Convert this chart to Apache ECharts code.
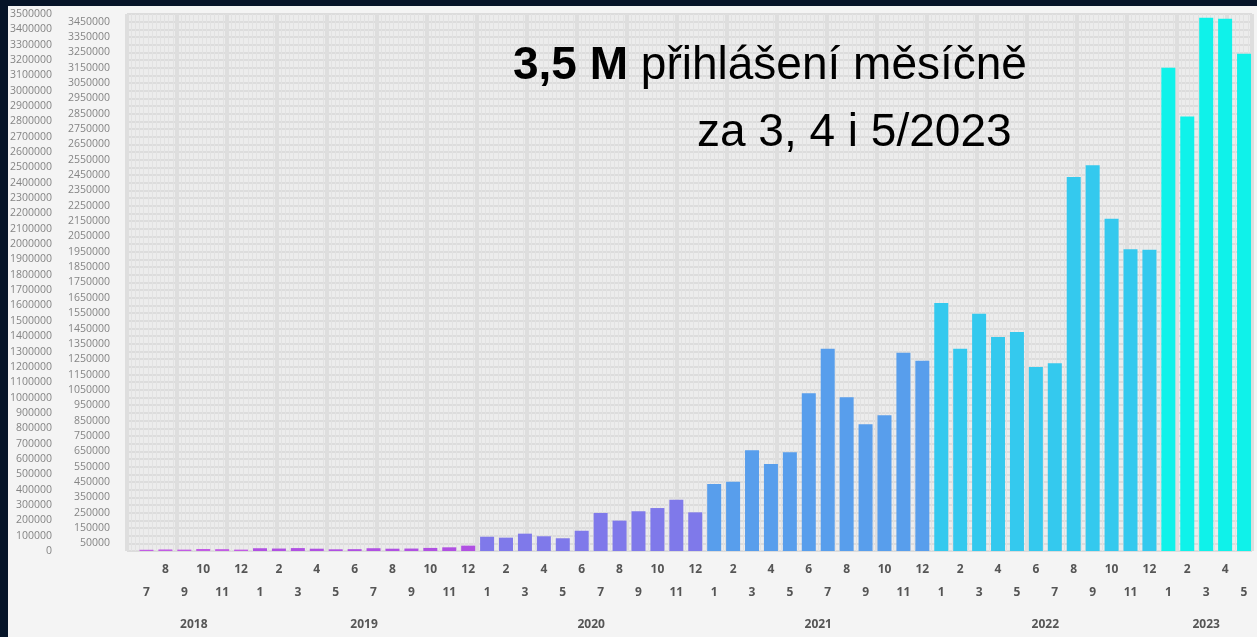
<!DOCTYPE html>
<html>
<head>
<meta charset="utf-8">
<title>Přihlášení měsíčně</title>
<script src="https://cdn.jsdelivr.net/npm/echarts@6/dist/echarts.min.js"></script>
<style>
  html, body { margin: 0; padding: 0; background: #061428; }
  #main { width: 1257px; height: 637px; }
</style>
</head>
<body>
<div id="main"></div>
<script>
// kategorie (rok-měsíc) od 7/2018 do 5/2023
var categories = [
  '2018-7','2018-8','2018-9','2018-10','2018-11','2018-12',
  '2019-1','2019-2','2019-3','2019-4','2019-5','2019-6','2019-7','2019-8','2019-9','2019-10','2019-11','2019-12',
  '2020-1','2020-2','2020-3','2020-4','2020-5','2020-6','2020-7','2020-8','2020-9','2020-10','2020-11','2020-12',
  '2021-1','2021-2','2021-3','2021-4','2021-5','2021-6','2021-7','2021-8','2021-9','2021-10','2021-11','2021-12',
  '2022-1','2022-2','2022-3','2022-4','2022-5','2022-6','2022-7','2022-8','2022-9','2022-10','2022-11','2022-12',
  '2023-1','2023-2','2023-3','2023-4','2023-5'
]
// počet přihlášení za měsíc
var logins = [
  8000, 10000, 9000, 13000, 12000, 9000,
  18000, 16000, 19000, 15000, 11000, 12000, 18000, 15000, 16000, 20000, 24000, 35000,
  93000, 87000, 113000, 96000, 83000, 132000, 248000, 198000, 259000, 280000, 334000, 252000,
  437000, 452000, 656000, 567000, 643000, 1028000, 1318000, 1002000, 826000, 884000, 1292000, 1240000,
  1617000, 1319000, 1546000, 1394000, 1428000, 1200000, 1224000, 2437000, 2515000, 2165000, 1967000, 1963000,
  3150000, 2832000, 3476000, 3469000, 3241000
]
var years = ['2018', '2019', '2020', '2021', '2022', '2023']
var yearColors = ['#c25ce4', '#b050e2', '#7f79ea', '#589eec', '#34c9ee', '#0ff2ea']

var yMax = 3500000
var yStep = 50000

// středy let pro popisky roku
var yearCenters = years.map(function (y) {
  var idx = []
  categories.forEach(function (c, i) { if (c.split('-')[0] === y) idx.push(i) })
  return (idx[0] + idx[idx.length - 1]) / 2
})

var chart = echarts.init(document.getElementById('main'))

chart.setOption({
  backgroundColor: '#061428',
  animation: false,
  graphic: [
    {
      type: 'rect', z: -10, silent: true,
      shape: { x: 8, y: 6, width: 1257 - 8, height: 637 - 6 },
      style: { fill: '#f4f4f4' }
    },
    {
      type: 'text', left: 513, top: 43, z: 100,
      style: {
        text: '{b|3,5 M} přihlášení měsíčně',
        rich: {
          b: { fontFamily: 'Liberation Sans', fontSize: 46, fontWeight: 'bold', fill: '#000' }
        },
        fontFamily: 'Liberation Sans', fontSize: 46, fill: '#000'
      }
    },
    {
      type: 'text', left: 697, top: 110, z: 100,
      style: { text: 'za 3, 4 i 5/2023', fontFamily: 'Liberation Sans', fontSize: 46, fill: '#000' }
    }
  ],
  grid: [
    { left: 137, right: 3.5, top: 14, bottom: 86 },
    { left: 127, right: 5, top: 14, bottom: 86, show: true, backgroundColor: '#ececec', borderWidth: 0, z: 0 }
  ],
  xAxis: [
    {
      type: 'category',
      gridIndex: 0,
      data: categories,
      axisLine: { show: false },
      axisTick: { show: false },
      axisLabel: {
        interval: 0,
        margin: 7,
        fontFamily: 'Open Sans',
        fontSize: 12,
        fontWeight: 'bold',
        color: '#555',
        lineHeight: 23,
        formatter: function (v) {
          var i = categories.indexOf(v)
          var m = v.split('-')[1]
          return i % 2 === 0 ? '\n' + m : m
        }
      }
    },
    {
      type: 'value',
      gridIndex: 0,
      min: -0.5,
      max: categories.length - 0.5,
      position: 'bottom',
      axisLine: { show: false },
      axisTick: { show: false },
      splitLine: { show: false },
      axisLabel: {
        customValues: yearCenters,
        margin: 68,
        fontFamily: 'Open Sans',
        fontSize: 12,
        fontWeight: 'bold',
        color: '#555',
        formatter: function (v) {
          return years[yearCenters.indexOf(v)]
        }
      }
    },
    {
      // dekorační mřížka
      type: 'value',
      gridIndex: 1,
      min: 0, max: 1125, interval: 50,
      axisLine: { show: false }, axisTick: { show: false }, axisLabel: { show: false },
      splitLine: { show: true, lineStyle: { color: '#dedede', width: 4 } },
      minorTick: { show: false, splitNumber: 12 },
      minorSplitLine: { show: true, lineStyle: { color: '#e2e2e2', width: 1 } }
    }
  ],
  yAxis: [
    {
      type: 'value',
      gridIndex: 0,
      min: 0, max: yMax, interval: yStep,
      axisLine: { show: false },
      axisTick: { show: false },
      splitLine: { show: false },
      axisLabel: {
        margin: 27,
        fontFamily: 'Open Sans',
        fontSize: 10.5,
        color: '#858585',
        formatter: function (v) {
          return v % 100000 === 0 ? '{l|' + v + '}' : '{r|' + v + '}'
        },
        rich: {
          l: { fontFamily: 'Open Sans', fontSize: 10.5, color: '#858585', padding: [0, 58, 0, 0] },
          r: { fontFamily: 'Open Sans', fontSize: 10.5, color: '#858585' }
        }
      }
    },
    {
      type: 'value',
      gridIndex: 1,
      min: 0, max: yMax, interval: yStep,
      axisLine: { show: false }, axisTick: { show: false }, axisLabel: { show: false },
      splitLine: { show: true, lineStyle: { color: '#dcdcdc', width: 2 } }
    }
  ],
  series: [{
    name: 'Přihlášení',
    type: 'bar',
    xAxisIndex: 0,
    yAxisIndex: 0,
    barWidth: 14,
    data: logins,
    z: 5,
    itemStyle: {
      color: function (p) {
        return yearColors[years.indexOf(categories[p.dataIndex].split('-')[0])]
      }
    }
  }]
})
</script>
</body>
</html>
